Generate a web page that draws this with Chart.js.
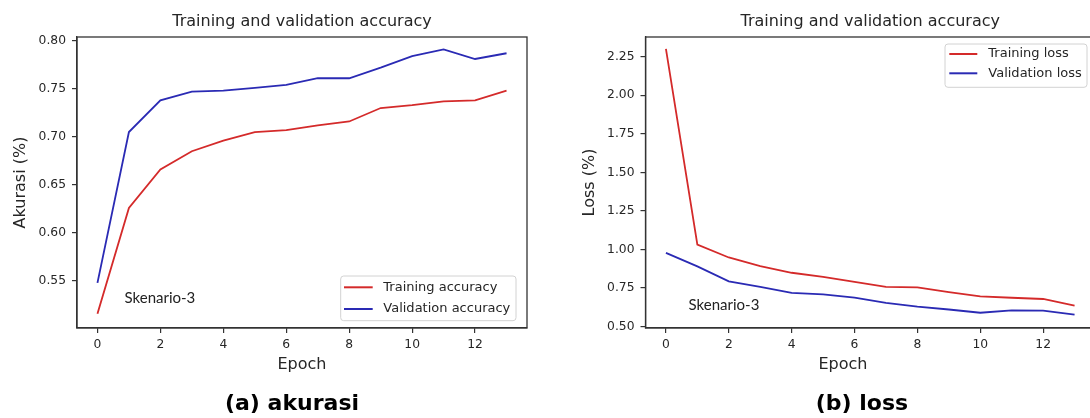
<!DOCTYPE html>
<html>
<head>
<meta charset="utf-8">
<script src="https://cdn.jsdelivr.net/npm/chart.js@4.4.1/dist/chart.umd.min.js"></script>
<style>
  html, body { margin:0; padding:0; background:#fff; }
  body { width:1090px; height:418px; position:relative; overflow:hidden; }
  .panel { position:absolute; top:0; height:418px; overflow:hidden; }
  .cap { position:absolute; top:390px; width:240px; text-align:center;
         font-family:"DejaVu Sans", sans-serif; font-weight:bold; font-size:22px;
         line-height:26px; color:#000; }
</style>
</head>
<body>
<div class="panel" style="left:0;width:545px"><canvas id="c1" width="545" height="418"></canvas></div>
<div class="panel" style="left:545px;width:545px"><canvas id="c2" width="580" height="418"></canvas></div>
<div class="cap" style="left:172px">(a) akurasi</div>
<div class="cap" style="left:742px">(b) loss</div>
<script>
// ---- data ----
const epochs = [0,1,2,3,4,5,6,7,8,9,10,11,12,13];
const trainAcc = [0.516,0.626,0.666,0.685,0.696,0.705,0.707,0.712,0.716,0.730,0.733,0.737,0.738,0.748];
const valAcc   = [0.548,0.705,0.738,0.747,0.748,0.751,0.754,0.761,0.761,0.772,0.784,0.791,0.781,0.787];
const trainLoss = [2.300,1.032,0.948,0.892,0.849,0.823,0.790,0.758,0.754,0.724,0.696,0.687,0.679,0.636];
const valLoss   = [0.978,0.890,0.793,0.757,0.718,0.709,0.688,0.654,0.630,0.611,0.590,0.605,0.603,0.577];
const xTicks = [0,2,4,6,8,10,12];
const accTicks = [0.55,0.60,0.65,0.70,0.75,0.80];
const lossTicks = [0.50,0.75,1.00,1.25,1.50,1.75,2.00,2.25];
const epochRange = [-0.65, 13.65];
const accRange = [0.5011, 0.8039];
const lossRange = [0.491, 2.377];
const chartTitle = 'Training and validation accuracy';
const accLabels = ['Training accuracy','Validation accuracy'];
const lossLabels = ['Training loss','Validation loss'];
const noteText = 'Skenario-3';

// ---- styles ----
const RED = '#d42a2a', BLUE = '#2a2ab4', AXIS = '#333333', TXT = '#262626';
const FONT = '"DejaVu Sans", sans-serif';

function series(xs, ys){ return xs.map((x,i)=>({x:x, y:ys[i]})); }

const framePlugin = {
  id:'frame',
  afterDatasetsDraw(chart){
    const a = chart.chartArea, ctx = chart.ctx;
    ctx.save();
    ctx.strokeStyle = AXIS; ctx.lineWidth = 1.3;
    ctx.strokeRect(a.left, a.top, a.right - a.left, a.bottom - a.top);
    ctx.restore();
  }
};

const extrasPlugin = {
  id:'extras',
  afterDraw(chart, args, o){
    const ctx = chart.ctx, xs = chart.scales.x, ys = chart.scales.y;
    ctx.save();
    // annotation text
    ctx.font = '15px Lato, "Open Sans", sans-serif';
    ctx.fillStyle = '#222';
    ctx.textAlign = 'left'; ctx.textBaseline = 'middle';
    ctx.fillText(noteText, xs.getPixelForValue(o.note[0]), ys.getPixelForValue(o.note[1]));
    // legend
    const b = o.legend;
    ctx.beginPath();
    const r = 3;
    ctx.moveTo(b.x + r, b.y);
    ctx.arcTo(b.x + b.w, b.y, b.x + b.w, b.y + b.h, r);
    ctx.arcTo(b.x + b.w, b.y + b.h, b.x, b.y + b.h, r);
    ctx.arcTo(b.x, b.y + b.h, b.x, b.y, r);
    ctx.arcTo(b.x, b.y, b.x + b.w, b.y, r);
    ctx.closePath();
    ctx.fillStyle = 'rgba(255,255,255,0.85)';
    ctx.fill();
    ctx.strokeStyle = '#d2d2d2'; ctx.lineWidth = 1;
    ctx.stroke();
    ctx.font = '13px ' + FONT;
    chart.data.datasets.forEach((ds, i) => {
      const y = b.rows[i];
      ctx.strokeStyle = ds.borderColor; ctx.lineWidth = 2;
      ctx.beginPath(); ctx.moveTo(b.s0, y); ctx.lineTo(b.s1, y); ctx.stroke();
      ctx.fillStyle = TXT; ctx.textAlign = 'left'; ctx.textBaseline = 'middle';
      ctx.fillText(ds.label, b.tx, y);
    });
    // custom x title if requested
    if (o.xTitle) {
      ctx.font = '16px ' + FONT;
      ctx.fillStyle = TXT; ctx.textAlign = 'center'; ctx.textBaseline = 'middle';
      ctx.fillText(o.xTitle.text, o.xTitle.x, o.xTitle.y);
    }
    ctx.restore();
  }
};

function makeChart(id, cfg){
  return new Chart(document.getElementById(id), {
    type:'line',
    data:{ datasets:[
      { label:cfg.labels[0], data:series(epochs, cfg.train), borderColor:RED, backgroundColor:RED,
        borderWidth:1.8, pointRadius:0, tension:0, fill:false },
      { label:cfg.labels[1], data:series(epochs, cfg.val), borderColor:BLUE, backgroundColor:BLUE,
        borderWidth:1.8, pointRadius:0, tension:0, fill:false }
    ]},
    options:{
      responsive:false, animation:false, events:[],
      layout:{ padding:{ left:0, right:cfg.padRight, top:0, bottom:44 } },
      plugins:{
        legend:{ display:false },
        tooltip:{ enabled:false },
        title:{ display:true, text:chartTitle, fullSize:false, color:TXT,
                font:{ family:FONT, size:16, weight:'normal' }, padding:{ top:12, bottom:5.8 } },
        extras:{ note:cfg.note, legend:cfg.legend, xTitle:cfg.xTitle }
      },
      scales:{
        x:{ type:'linear', min:epochRange[0], max:epochRange[1],
            afterBuildTicks:s=>{ s.ticks = xTicks.map(v=>({value:v})); },
            afterFit:s=>{ s.height = 46; },
            grid:{ drawOnChartArea:false, drawTicks:true, tickLength:5, color:AXIS, lineWidth:1.2 },
            border:{ display:true, color:AXIS, width:1.3 },
            ticks:{ color:TXT, font:{ family:FONT, size:12.3 }, padding:4, maxRotation:0, autoSkip:false,
                    callback:v=>String(v) },
            title:{ display:!cfg.xTitle, text:'Epoch', color:TXT, font:{ family:FONT, size:16 },
                    padding:{ top:0, bottom:0 } } },
        y:{ type:'linear', min:cfg.range[0], max:cfg.range[1],
            afterBuildTicks:s=>{ s.ticks = cfg.ticks.map(v=>({value:v})); },
            afterFit:s=>{ s.width = cfg.yWidth; },
            grid:{ drawOnChartArea:false, drawTicks:true, tickLength:5, color:AXIS, lineWidth:1.2 },
            border:{ display:true, color:AXIS, width:1.3 },
            ticks:{ color:TXT, font:{ family:FONT, size:12.3 }, padding:6, autoSkip:false,
                    callback:v=>Number(v).toFixed(2) },
            title:{ display:true, text:cfg.yTitle, color:TXT, font:{ family:FONT, size:16 },
                    padding:{ top:cfg.yTitlePad, bottom:0 } } }
      }
    },
    plugins:[framePlugin, extrasPlugin]
  });
}

makeChart('c1', {
  labels:accLabels, train:trainAcc, val:valAcc, ticks:accTicks, range:accRange,
  yTitle:'Akurasi (%)', yWidth:77, yTitlePad:11.4, padRight:18,
  note:[0.86, 0.5326],
  legend:{ x:340.7, y:276, w:175.3, h:44.7, rows:[287.3, 309], s0:344, s1:372.7, tx:383.3 },
  xTitle:null
});
makeChart('c2', {
  labels:lossLabels, train:trainLoss, val:valLoss, ticks:lossTicks, range:lossRange,
  yTitle:'Loss (%)', yWidth:100.5, yTitlePad:35.4, padRight:30,
  note:[0.72, 0.642],
  legend:{ x:400, y:44, w:142, h:43.3, rows:[54, 73.3], s0:404.3, s1:432.3, tx:443.3 },
  xTitle:{ text:'Epoch', x:298, y:364.4 }
});
</script>
</body>
</html>
